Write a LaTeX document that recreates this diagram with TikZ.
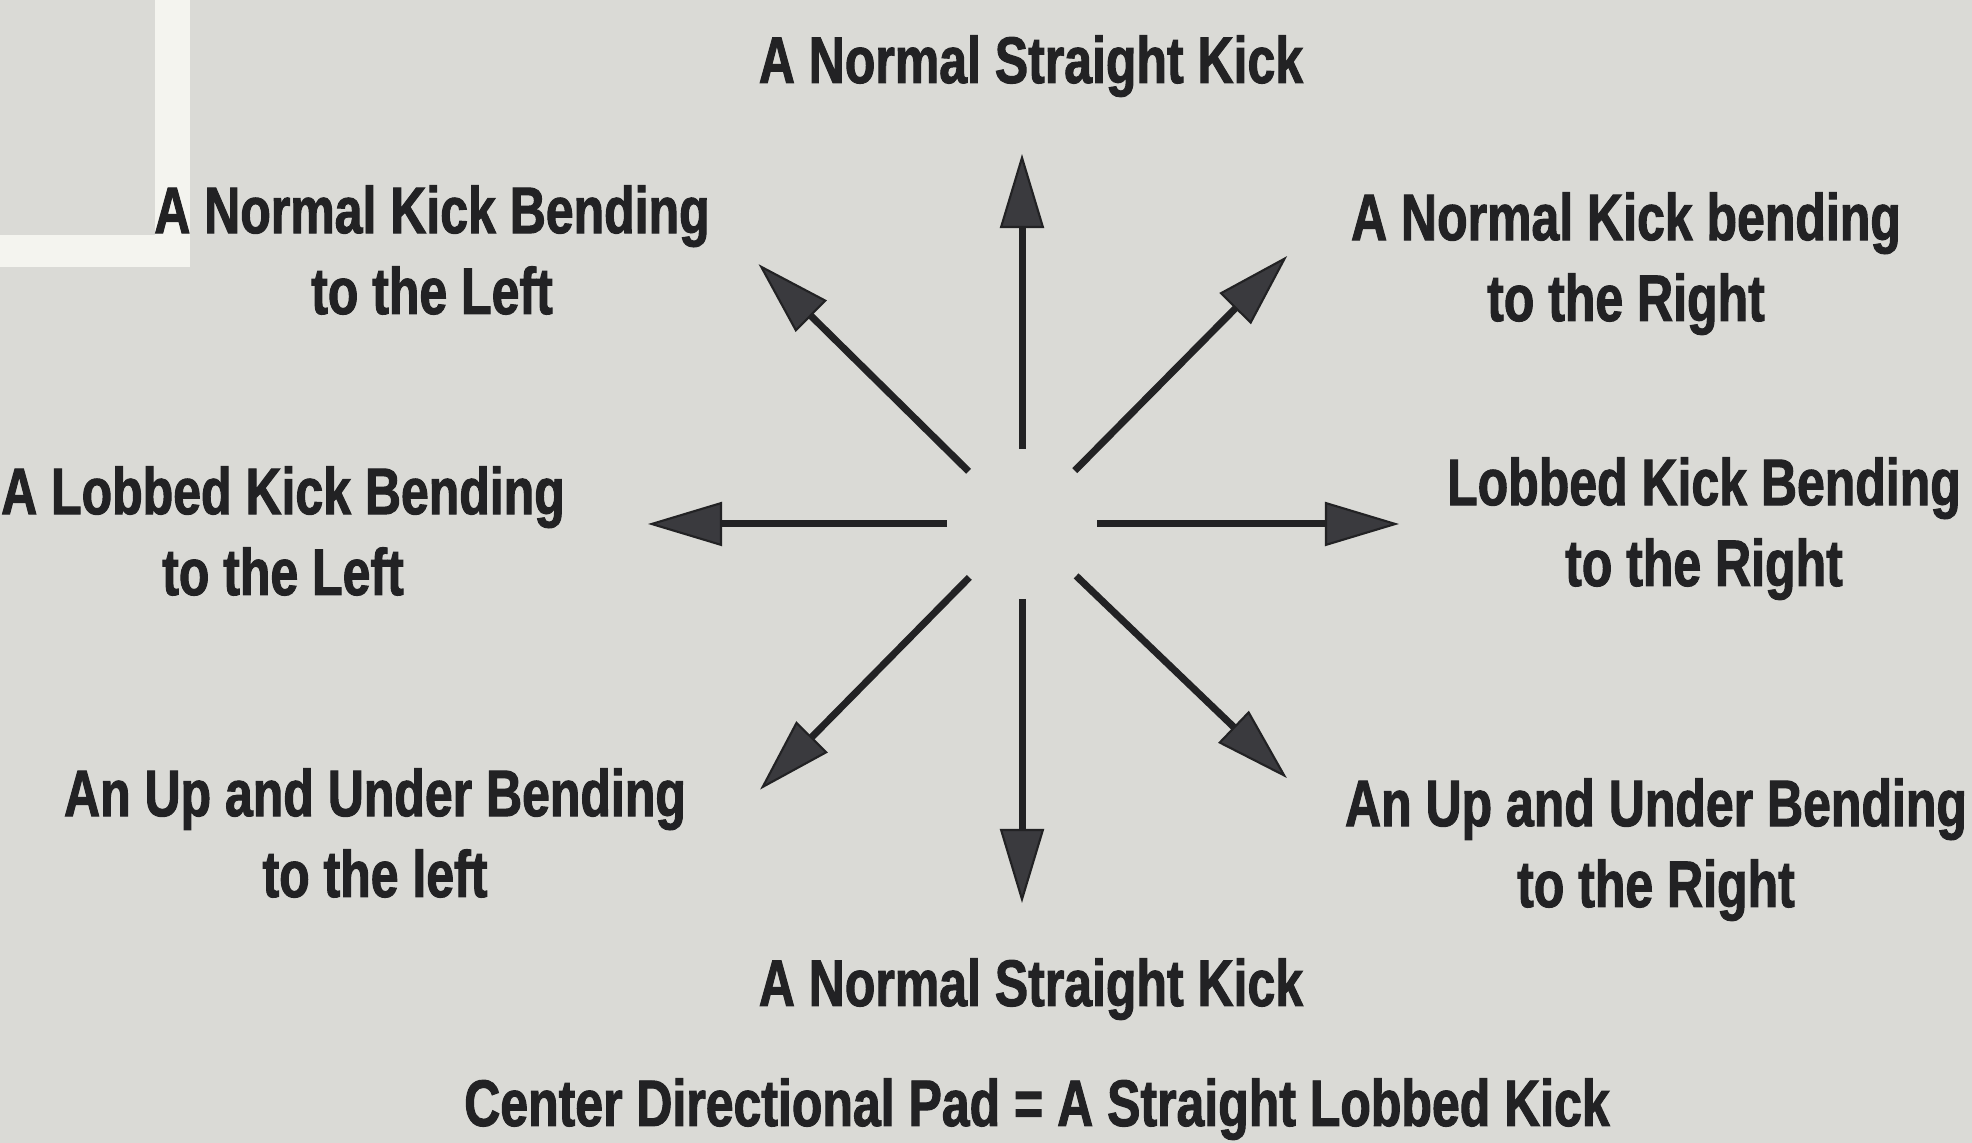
\documentclass[tikz,border=0pt]{standalone}
\usepackage{fontspec}
\setmainfont{Liberation Sans}[FakeStretch=0.76, BoldFeatures={FakeBold=1.5}]
\usepackage{xcolor}
\usepackage{tikz}
\usetikzlibrary{arrows.meta,calc}
\definecolor{padgray}{RGB}{218,218,214}
\definecolor{scanwhite}{RGB}{244,244,239}
\definecolor{inkdark}{RGB}{34,34,36}
\definecolor{headgray}{RGB}{58,58,62}
\tikzset{kicklabel/.style={font=\bfseries\fontsize{18.7}{23}\selectfont, text=inkdark, align=center, inner sep=0pt, anchor=base}, kick/.style={-{Triangle[length=7.4mm, width=4.4mm, line width=0.6pt, fill=headgray]}, line width=0.7mm, draw=inkdark}}

\begin{document}
\begin{tikzpicture}[x=0.01cm, y=0.01cm]
\fill[padgray] (0,0) rectangle (1972,1143);
\useasboundingbox (0,0) rectangle (1972,1143);
\fill[scanwhite] (155,1143) rectangle (190,876);
\fill[scanwhite] (0,908) rectangle (190,876);
\coordinate (pad) at (1022,619);
\foreach \dir/\ang/\len in {n/90/370, ne/45.3/377, e/0/377, se/-43.8/367, s/-90/379, sw/-134.6/373, w/180/374, nw/135.4/370} {
  \coordinate (\dir-tail) at ($(pad)+(\ang:75)$);
  \coordinate (\dir-tip) at ($(pad)+(\ang:\len)$);
  \draw[kick] (\dir-tail) -- (\dir-tip);
}
% two-line labels sit on the baseline of their last line
\node[kicklabel] (up) at (1031,1060) {A Normal Straight Kick};
\node[kicklabel] (upleft) at (432,829) {A Normal Kick Bending\\to the Left};
\node[kicklabel] (upright) at (1626,822) {A Normal Kick bending\\to the Right};
\node[kicklabel] (left) at (283,548) {A Lobbed Kick Bending\\to the Left};
\node[kicklabel] (right) at (1704,557) {Lobbed Kick Bending\\to the Right};
\node[kicklabel] (downleft) at (375,246) {An Up and Under Bending\\to the left};
\node[kicklabel] (downright) at (1656,236) {An Up and Under Bending\\to the Right};
\node[kicklabel] (down) at (1031,137) {A Normal Straight Kick};
\node[kicklabel] (centre) at (1037,17) {Center Directional Pad = A Straight Lobbed Kick};
\end{tikzpicture}
\end{document}
